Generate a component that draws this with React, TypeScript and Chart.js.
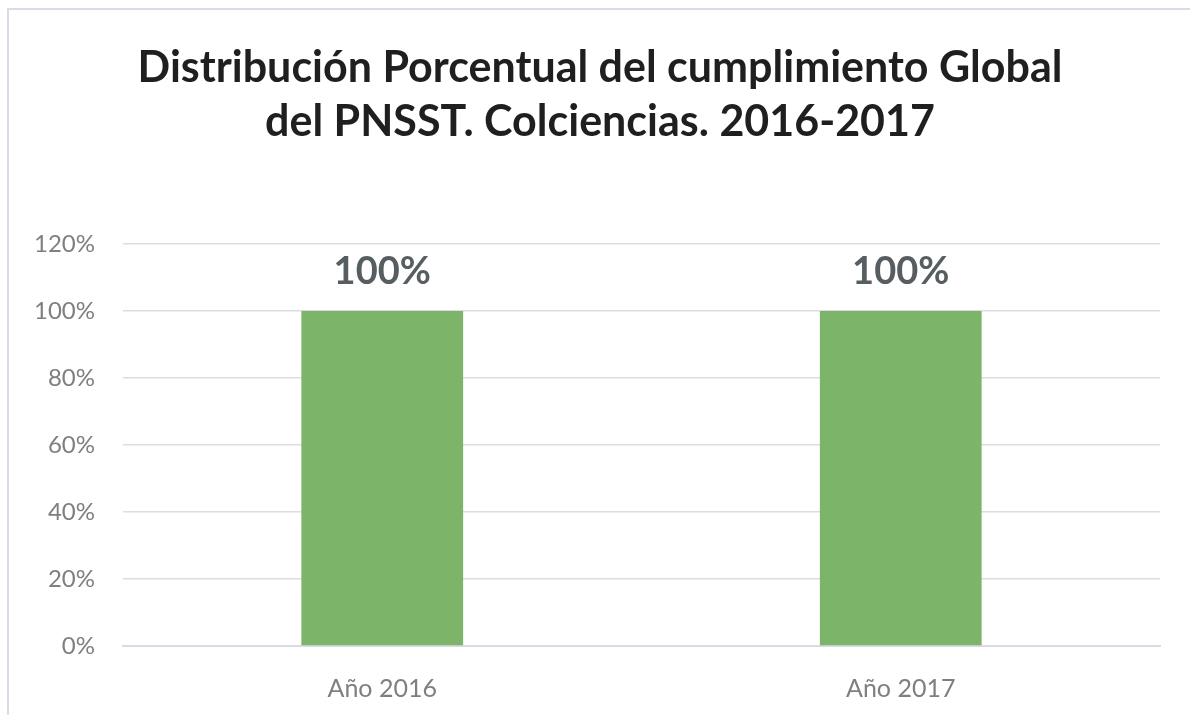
import React, { useEffect, useRef } from "react";
import { Chart, registerables } from "chart.js";

Chart.register(...registerables);

const categories = ["Año 2016", "Año 2017"];
const values = [100, 100];
const dataLabels = ["100%", "100%"];
const titleLines = [
  "Distribución Porcentual del cumplimiento Global",
  "del PNSST. Colciencias. 2016-2017",
];
const yMin = 0;
const yMax = 120;
const yStep = 20;

const FONT = "Lato, 'Open Sans', sans-serif";

const labelPlugin = {
  id: "barLabels",
  afterDatasetsDraw(chart: any) {
    const ctx = chart.ctx;
    const meta = chart.getDatasetMeta(0);
    ctx.save();
    ctx.font = `bold 38px ${FONT}`;
    ctx.fillStyle = "#575e62";
    ctx.textAlign = "center";
    ctx.textBaseline = "alphabetic";
    meta.data.forEach((bar: any, i: number) => {
      ctx.fillText(dataLabels[i], bar.x, bar.y - 27);
    });
    ctx.restore();
  },
};

export default function App() {
  const ref = useRef<HTMLCanvasElement>(null);
  useEffect(() => {
    const chart = new Chart(ref.current!, {
      type: "bar",
      data: {
        labels: categories,
        datasets: [
          {
            data: values,
            backgroundColor: "#7cb46a",
            categoryPercentage: 1,
            barPercentage: 0.312,
          },
        ],
      },
      options: {
        responsive: false,
        animation: false,
        layout: { padding: { left: 10, right: 0, top: 0, bottom: 0 } },
        plugins: {
          legend: { display: false },
          tooltip: { enabled: false },
          title: {
            display: true,
            text: titleLines,
            color: "#1f1f1f",
            font: { family: FONT, size: 43, weight: "bold", lineHeight: 1.256 },
            padding: { top: 41, bottom: 95 },
          },
        },
        scales: {
          x: {
            grid: { display: false },
            border: { color: "#d9dbe4", width: 2 },
            ticks: {
              color: "#7f7f7f",
              font: { family: FONT, size: 25 },
              padding: 20,
            },
            afterFit(scale: any) {
              scale.height = 69;
            },
          },
          y: {
            min: yMin,
            max: yMax,
            ticks: {
              stepSize: yStep,
              color: "#7f7f7f",
              font: { family: FONT, size: 24 },
              padding: 28,
              callback: (v: any) => v + "%",
            },
            grid: { color: "#dcdde3", lineWidth: 1.5, drawTicks: false },
            border: { display: false },
            afterFit(scale: any) {
              scale.width = 113;
            },
          },
          yRight: {
            type: "linear",
            position: "right",
            min: yMin,
            max: yMax,
            grid: { display: false, drawTicks: false },
            border: { display: false },
            ticks: { display: false },
            afterFit(scale: any) {
              scale.width = 30;
            },
          },
        },
      },
      plugins: [labelPlugin],
    });
    return () => chart.destroy();
  }, []);
  return (
    <div style={{ position: "fixed", left: 0, top: 0, width: 1190, height: 715, background: "#fff" }}>
      <div
        style={{
          position: "absolute",
          left: 7,
          top: 8,
          right: -10,
          bottom: -10,
          borderTop: "2px solid #d9dbe6",
          borderLeft: "2px solid #d9dbe6",
        }}
      />
      <canvas ref={ref} width={1190} height={715} style={{ position: "absolute", left: 0, top: 0 }} />
    </div>
  );
}
